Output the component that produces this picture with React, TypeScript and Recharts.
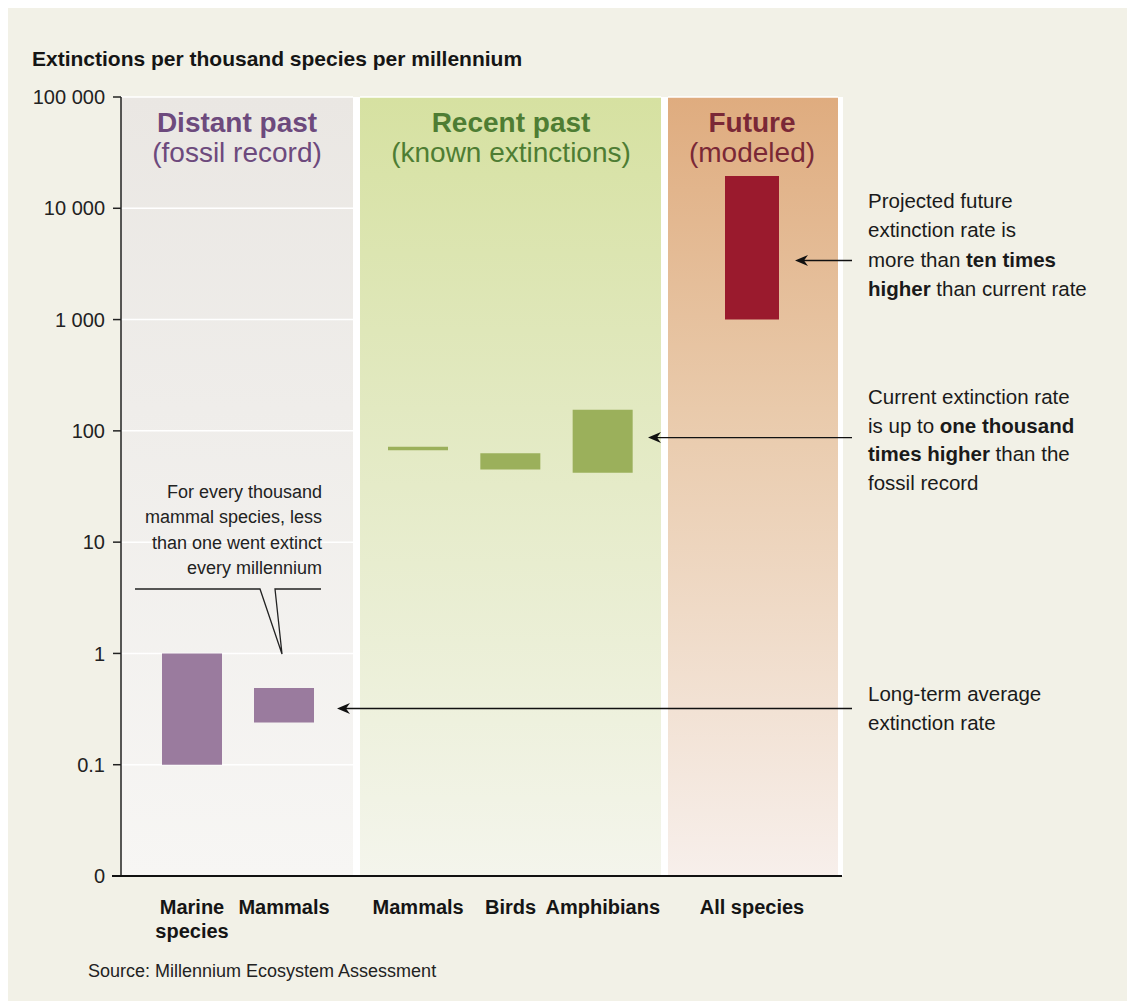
import React from "react";
import { BarChart, Bar, XAxis, YAxis, CartesianGrid } from "recharts";

// ---------- data ----------
// y positions are decades: "0" sits one decade below 0.1 (the chart's floor)
const yTickValues = [0, 1, 2, 3, 4, 5, 6, 7];
const yTickLabels = ["0", "0.1", "1", "10", "100", "1 000", "10 000", "100 000"];

const distantCategories = ["Marine\nspecies", "Mammals"];
const distantLow = [0.1, 0.24];
const distantHigh = [1, 0.49];

const recentCategories = ["Mammals", "Birds", "Amphibians"];
const recentLow = [67, 45, 42];
const recentHigh = [72, 63, 155];

const futureCategories = ["All species"];
const futureLow = [1000];
const futureHigh = [19500];

// annotation arrow targets (values on the y scale)
const projectedArrowValue = 3400;
const currentArrowValue = 87;
const longTermArrowValue = 0.32;

const toDecade = (v: number) => Math.log10(v) + 2;

const build = (cats: string[], lo: number[], hi: number[]) =>
  cats.map((name, i) => ({ name, range: [toDecade(lo[i]), toDecade(hi[i])] }));

const distantData = build(distantCategories, distantLow, distantHigh);
const recentData = build(recentCategories, recentLow, recentHigh);
const futureData = build(futureCategories, futureLow, futureHigh);

// ---------- layout ----------
const FONT = "'Liberation Sans', Arial, Helvetica, sans-serif";
const CHART_TOP = 80; // page coords
const CHART_H = 866;
const MARGIN_TOP = 17;
const XAXIS_H = 70;
const PLOT_TOP = CHART_TOP + MARGIN_TOP;
const PLOT_BOTTOM = CHART_TOP + CHART_H - XAXIS_H;
const Y_MAX = 7;
const yOf = (v: number) =>
  PLOT_TOP + ((Y_MAX - toDecade(v)) / Y_MAX) * (PLOT_BOTTOM - PLOT_TOP);

const CatTick = (props: any) => {
  const { x, y, payload } = props;
  const lines = String(payload.value).split("\n");
  return (
    <text x={x} y={y} textAnchor="middle" fontFamily={FONT} fontSize={20} fontWeight="bold" fill="#151515">
      {lines.map((l, i) => (
        <tspan key={i} x={x} dy={i === 0 ? 30 : 24}>
          {l}
        </tspan>
      ))}
    </text>
  );
};

type PanelProps = {
  id: string;
  data: any[];
  left: number;
  width: number;
  color: string;
  gradTop: string;
  gradMid: string;
  gradBottom: string;
  padding: { left: number; right: number };
  showY: boolean;
};

function Panel(p: PanelProps) {
  return (
    <div style={{ position: "absolute", left: p.left - 8, top: CHART_TOP - 8 }}>
      <BarChart
        width={p.width}
        height={CHART_H}
        data={p.data}
        margin={{ top: MARGIN_TOP, right: 0, bottom: 0, left: 0 }}
      >
        <defs>
          <linearGradient id={p.id} x1="0" y1="0" x2="0" y2="1">
            <stop offset="0%" stopColor={p.gradTop} />
            <stop offset="40%" stopColor={p.gradMid} />
            <stop offset="100%" stopColor={p.gradBottom} />
          </linearGradient>
        </defs>
        <CartesianGrid vertical={false} stroke="#ffffff" strokeWidth={1.5} fill={`url(#${p.id})`} fillOpacity={1} />
        <XAxis
          dataKey="name"
          type="category"
          axisLine={false}
          tickLine={false}
          tickSize={6}
          tickMargin={2}
          height={XAXIS_H}
          padding={p.padding}
          interval={0}
          tick={<CatTick />}
        />
        {p.showY ? (
          <YAxis
            type="number"
            domain={[0, Y_MAX]}
            ticks={yTickValues}
            interval={0}
            width={113}
            tickSize={8}
            tickMargin={8}
            axisLine={{ stroke: "#222", strokeWidth: 1.5 }}
            tickLine={{ stroke: "#222", strokeWidth: 1.5 }}
            tick={{ fill: "#222", fontSize: 20, fontFamily: FONT }}
            tickFormatter={(v: number) => yTickLabels[yTickValues.indexOf(v)]}
          />
        ) : (
          <YAxis
            type="number"
            domain={[0, Y_MAX]}
            ticks={yTickValues}
            interval={0}
            width={0}
            tick={false}
            axisLine={false}
            tickLine={false}
          />
        )}
        <Bar dataKey="range" fill={p.color} barSize={60} isAnimationActive={false} />
      </BarChart>
    </div>
  );
}

const Arrow = ({ fromX, toX, y }: { fromX: number; toX: number; y: number }) => (
  <g>
    <line x1={fromX} y1={y} x2={toX + 8} y2={y} stroke="#111" strokeWidth={1.4} />
    <path d={`M ${toX} ${y} L ${toX + 13} ${y - 5.5} L ${toX + 9} ${y} L ${toX + 13} ${y + 5.5} Z`} fill="#111" />
  </g>
);

export default function App() {
  const tx = 868;
  const pY = yOf(projectedArrowValue);
  const cY = yOf(currentArrowValue);
  const lY = yOf(longTermArrowValue);
  return (
    <div style={{ position: "relative", width: 1125, height: 993, background: "#f2f1e7", fontFamily: FONT }}>
      {/* white backing that shows through the gaps between the bands */}
      <div style={{ position: "absolute", left: 121 - 8, top: PLOT_TOP - 8, width: 722, height: PLOT_BOTTOM - PLOT_TOP, background: "#ffffff" }} />
      <Panel
        id="gDistant"
        data={distantData}
        left={8}
        width={345}
        color="#9a7b9e"
        gradTop="#eae7e3"
        gradMid="#efedea"
        gradBottom="#f7f6f4"
        padding={{ left: 25, right: 23 }}
        showY={true}
      />
      <Panel
        id="gRecent"
        data={recentData}
        left={360}
        width={301}
        color="#9bb05b"
        gradTop="#d6e1a1"
        gradMid="#e2e9c1"
        gradBottom="#f4f5ec"
        padding={{ left: 12, right: 12 }}
        showY={false}
      />
      <Panel
        id="gFuture"
        data={futureData}
        left={668}
        width={170}
        color="#9a1a2d"
        gradTop="#dfac7f"
        gradMid="#e9caab"
        gradBottom="#f7efeb"
        padding={{ left: 54, right: 56 }}
        showY={false}
      />
      <svg
        width={1135}
        height={1001}
        style={{ position: "absolute", left: -8, top: -8, pointerEvents: "none" }}
        fontFamily={FONT}
      >
        <text x={32} y={66} fontSize={21} fontWeight="bold" fill="#151515">
          Extinctions per thousand species per millennium
        </text>

        {/* band titles */}
        <text x={237} y={132} textAnchor="middle" fontSize={28} fontWeight="bold" fill="#6d4a7d">Distant past</text>
        <text x={237} y={162} textAnchor="middle" fontSize={28} fill="#6d4a7d">(fossil record)</text>
        <text x={511} y={132} textAnchor="middle" fontSize={28} fontWeight="bold" fill="#4e7d33">Recent past</text>
        <text x={511} y={162} textAnchor="middle" fontSize={28} fill="#4e7d33">(known extinctions)</text>
        <text x={752} y={132} textAnchor="middle" fontSize={28} fontWeight="bold" fill="#7a2836">Future</text>
        <text x={752} y={162} textAnchor="middle" fontSize={28} fill="#7a2836">(modeled)</text>

        {/* x axis baseline */}
        <line x1={112} y1={PLOT_BOTTOM} x2={842} y2={PLOT_BOTTOM} stroke="#111" strokeWidth={2} />

        {/* mammal callout */}
        <text textAnchor="end" fontSize={18} fill="#222">
          <tspan x={322} y={498}>For every thousand</tspan>
          <tspan x={322} y={523}>mammal species, less</tspan>
          <tspan x={322} y={549}>than one went extinct</tspan>
          <tspan x={322} y={574}>every millennium</tspan>
        </text>
        <polyline
          points="135,589 260,589 282,654 275,589 321,589"
          fill="none"
          stroke="#222"
          strokeWidth={1.3}
        />

        {/* arrows */}
        <Arrow fromX={852} toX={795} y={pY} />
        <Arrow fromX={852} toX={648} y={cY} />
        <Arrow fromX={852} toX={337} y={lY} />

        {/* right-hand notes */}
        <text fontSize={20.5} fill="#1a1a1a">
          <tspan x={tx} y={208}>Projected future</tspan>
          <tspan x={tx} y={237}>extinction rate is</tspan>
          <tspan x={tx} y={267}>more than </tspan>
          <tspan fontWeight="bold">ten times</tspan>
          <tspan x={tx} y={296} fontWeight="bold">higher</tspan>
          <tspan> than current rate</tspan>
        </text>
        <text fontSize={20.5} fill="#1a1a1a">
          <tspan x={tx} y={404}>Current extinction rate</tspan>
          <tspan x={tx} y={433}>is up to </tspan>
          <tspan fontWeight="bold">one thousand</tspan>
          <tspan x={tx} y={461} fontWeight="bold">times higher</tspan>
          <tspan> than the</tspan>
          <tspan x={tx} y={490}>fossil record</tspan>
        </text>
        <text fontSize={20.5} fill="#1a1a1a">
          <tspan x={tx} y={701}>Long-term average</tspan>
          <tspan x={tx} y={730}>extinction rate</tspan>
        </text>

        <text x={88} y={977} fontSize={18} fill="#222">
          Source: Millennium Ecosystem Assessment
        </text>
      </svg>
    </div>
  );
}
